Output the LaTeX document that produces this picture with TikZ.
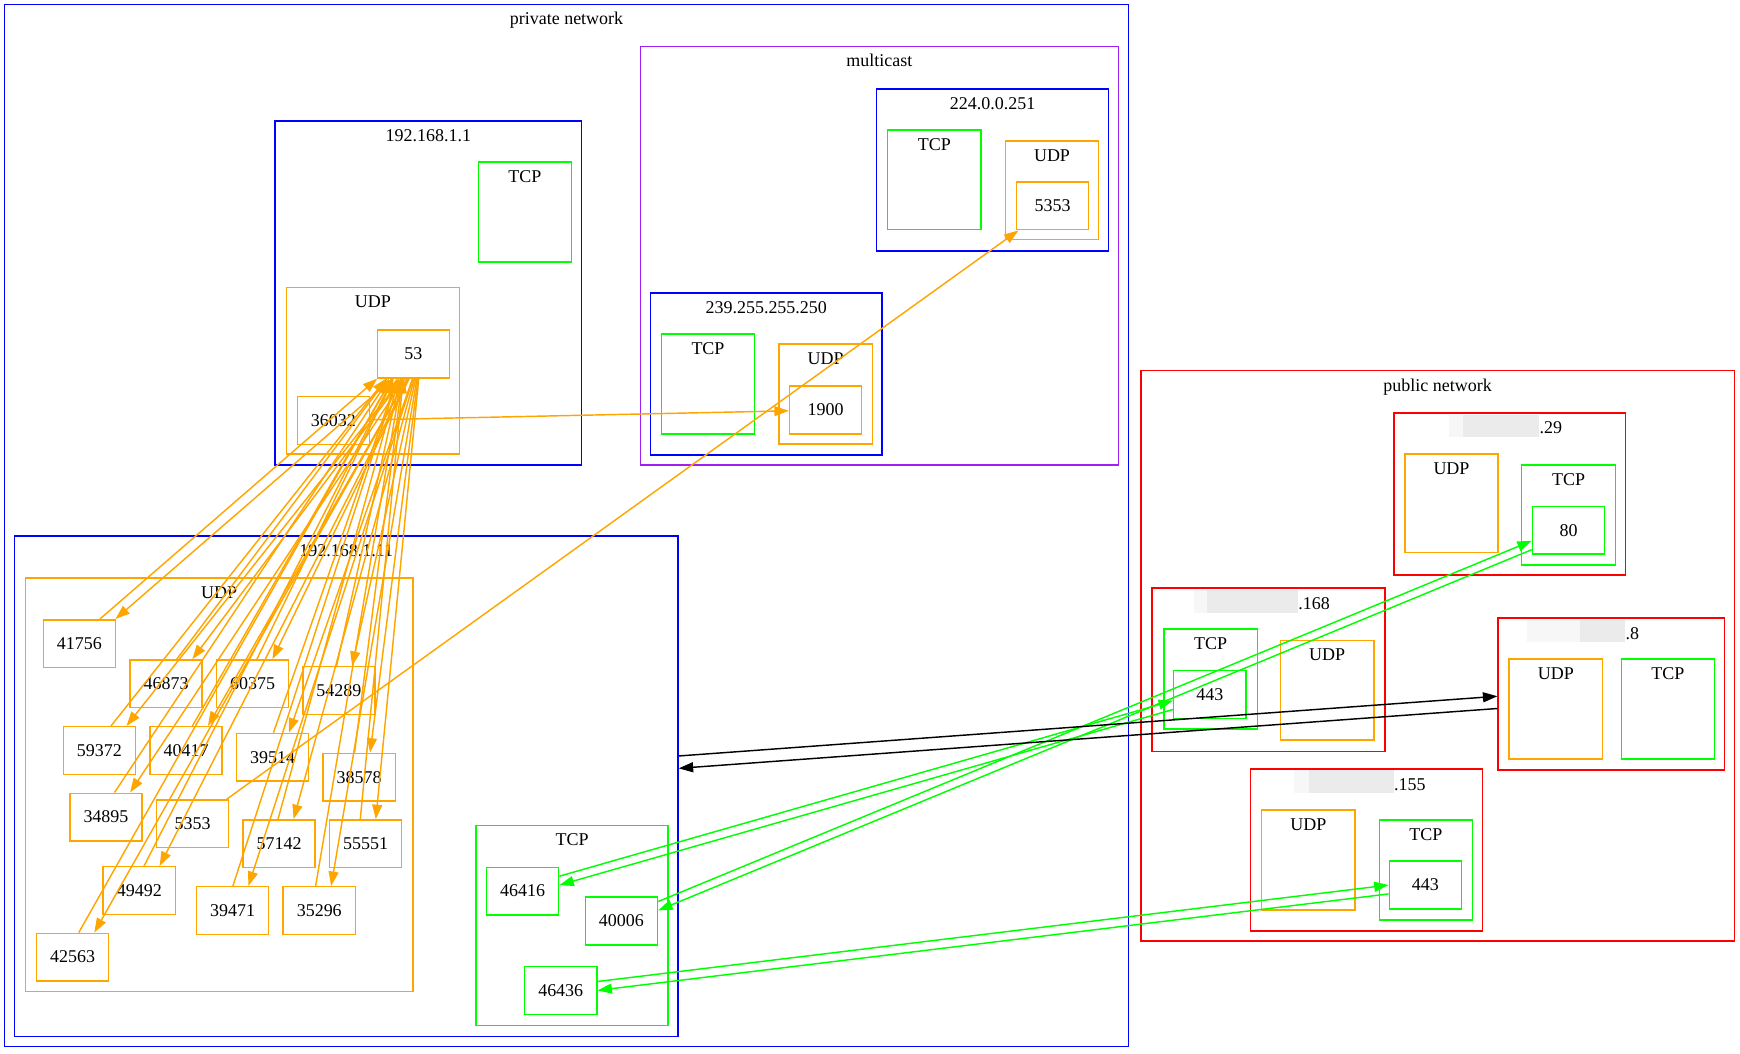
\documentclass[tikz,border=0pt]{standalone}
\usepackage{fontspec}
\setmainfont{Liberation Serif}
\usetikzlibrary{arrows.meta,fit,calc}
\definecolor{netblue}{RGB}{0,0,255}
\definecolor{netgreen}{RGB}{0,255,0}
\definecolor{netorange}{RGB}{255,165,0}
\definecolor{netred}{RGB}{255,0,0}
\definecolor{netpurple}{RGB}{160,32,240}
\tikzstyle{netbox}=[draw,line width=0.65pt,inner sep=0pt]
\tikzstyle{boxtitle}=[anchor=base,inner sep=0pt]
\tikzstyle{portbox}=[draw,line width=0.65pt,minimum width=32.5pt,minimum height=21.5pt,inner sep=0pt]
\tikzstyle{udpport}=[portbox,draw=netorange]
\tikzstyle{tcpport}=[portbox,draw=netgreen]
\tikzstyle{flow}=[line width=0.65pt,-{Triangle[length=6.5pt,width=4.5pt]}]
\tikzstyle{udpedge}=[flow,color=netorange]
\tikzstyle{tcpedge}=[flow,color=netgreen]
\tikzstyle{hostedge}=[flow,color=black]
\tikzstyle{blur}=[fill=black!8]
\tikzstyle{faintblur}=[fill=black!3]
% box from corner to corner, with its title under the top edge
\newcommand{\netcluster}[7]{%
  \node[netbox,draw=#6,fit={(#2,#3) (#4,#5)}] (#1) {};
  \node[boxtitle] (#1-title) at ($(#1.north)+(0,19)$) {#7};}

\begin{document}
\begin{tikzpicture}[x=0.5pt,y=-0.5pt,every node/.style={font=\fontsize{8.1}{9.7}\selectfont}]
    \useasboundingbox (0,0) rectangle (1568,949);
    % private side
    \netcluster{private}{4}{4}{1017}{943}{netblue}{private network}
    \netcluster{mcast}{577}{42}{1008}{419}{netpurple}{multicast}
    \netcluster{h224}{790}{80}{999}{226}{netblue}{224.0.0.251}
    \netcluster{h224tcp}{800}{117}{884}{207}{netgreen}{TCP}
    \netcluster{h224udp}{906}{127}{990}{216}{netorange}{UDP}
    \netcluster{h239}{586}{264}{795}{410}{netblue}{239.255.255.250}
    \netcluster{h239tcp}{596}{301}{680}{391}{netgreen}{TCP}
    \netcluster{h239udp}{702}{310}{786}{400}{netorange}{UDP}
    \netcluster{h1}{248}{109}{524}{419}{netblue}{192.168.1.1}
    \netcluster{h1tcp}{431}{146}{515}{236}{netgreen}{TCP}
    \netcluster{h1udp}{258}{259}{414}{409}{netorange}{UDP}
    \netcluster{h11}{13}{483}{611}{934}{netblue}{192.168.1.11}
    \netcluster{h11udp}{23}{521}{372}{893.5}{netorange}{UDP}
    \netcluster{h11tcp}{429}{744}{602}{924}{netgreen}{TCP}

    % public side, first part of each address blurred
    \netcluster{public}{1028}{334}{1563}{848}{netred}{public network}
    \netcluster{p29}{1256}{372}{1465}{518}{netred}{}
    \netcluster{p29udp}{1266}{409}{1350}{498}{netorange}{UDP}
    \netcluster{p29tcp}{1371}{419}{1456}{509}{netgreen}{TCP}
    \netcluster{p168}{1038}{530}{1248}{677}{netred}{}
    \netcluster{p168tcp}{1049}{567}{1133}{657}{netgreen}{TCP}
    \netcluster{p168udp}{1154}{577}{1238}{667}{netorange}{UDP}
    \netcluster{p8}{1350}{557}{1554}{694}{netred}{}
    \netcluster{p8udp}{1360}{594}{1444}{684}{netorange}{UDP}
    \netcluster{p8tcp}{1461}{594}{1545}{684}{netgreen}{TCP}
    \netcluster{p155}{1127}{693}{1336}{839}{netred}{}
    \netcluster{p155udp}{1137}{730}{1221}{820}{netorange}{UDP}
    \netcluster{p155tcp}{1243}{739}{1327}{829}{netgreen}{TCP}

    \fill[faintblur] (1306,374) rectangle (1318,394);
    \fill[blur] (1318,374) rectangle (1387,394);
    \node[boxtitle,anchor=base west] (p29-ip) at (1387,391) {.29};
    \fill[faintblur] (1075.6,532) rectangle (1087.6,552);
    \fill[blur] (1087.6,532) rectangle (1169.7,552);
    \node[boxtitle,anchor=base west] (p168-ip) at (1169.7,549) {.168};
    \fill[faintblur] (1375.6,558.7) rectangle (1424,578.4);
    \fill[blur] (1424,558.7) rectangle (1464.5,578.4);
    \node[boxtitle,anchor=base west] (p8-ip) at (1464.5,576) {.8};
    \fill[faintblur] (1166,694) rectangle (1180,715);
    \fill[blur] (1180,694) rectangle (1256,715);
    \node[boxtitle,anchor=base west] (p155-ip) at (1256,712) {.155};

    % ports
    \node[udpport] (m5353) at (948.5,185.5) {5353};
    \node[udpport] (m1900) at (744,369.5) {1900};
    \node[udpport] (r53) at (372.5,319) {53};
    \node[udpport] (r36032) at (300.5,379) {36032};
    \foreach \name/\x/\y in {41756/71.5/580, 46873/149.7/616.2, 60375/227.7/616.2,
                            54289/305.4/622.2, 59372/89.5/676.3, 40417/167.7/676.3,
                            39514/245.7/682.3, 38578/323.7/700.3, 34895/95.5/736.3,
                            5353/173.5/742.3, 57142/251.5/760.3, 55551/329.5/760.3,
                            49492/125.5/802.5, 39471/209.7/820.5, 35296/287.7/820.5,
                            42563/65.5/862.5}
        \node[udpport] (c\name) at (\x,\y) {\name};
    \foreach \name/\x/\y in {46416/471/803, 40006/560/830, 46436/505.3/892.5}
        \node[tcpport] (t\name) at (\x,\y) {\name};
    \node[tcpport] (w80) at (1413.5,477.7) {80};
    \node[tcpport] (w443a) at (1090.2,625.9) {443};
    \node[tcpport] (w443b) at (1284.5,797.5) {443};

    % dns requests and answers
    \foreach \p in {41756,46873,60375,54289,59372,40417,39514,38578,34895,
                    57142,55551,49492,39471,35296,42563}
    {
        \draw[udpedge,transform canvas={xshift=-3.5pt}] (c\p) -- (r53);
        \draw[udpedge,transform canvas={xshift=3.5pt}] (r53) -- (c\p);
    }
    \draw[udpedge] (r36032) -- (m1900);
    \draw[udpedge] (c5353) -- (m5353);

    % tcp sessions
    \foreach \a/\b in {t46416/w443a, t40006/w80, t46436/w443b}
    {
        \draw[tcpedge,transform canvas={yshift=2pt}] (\a) -- (\b);
        \draw[tcpedge,transform canvas={yshift=-2pt}] (\b) -- (\a);
    }
    \draw[hostedge,transform canvas={yshift=2.75pt}] (h11) -- (p8);
    \draw[hostedge,transform canvas={yshift=-2.75pt}] (p8) -- (h11);
\end{tikzpicture}
\end{document}
